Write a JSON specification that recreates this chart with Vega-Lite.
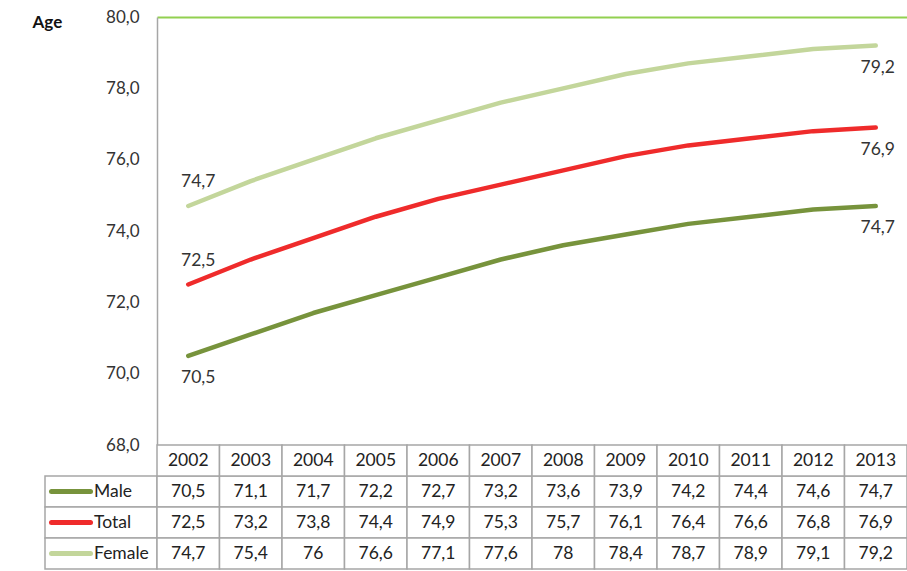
{
  "$schema": "https://vega.github.io/schema/vega-lite/v6.json",
  "padding": {"left": 32, "top": 8, "right": 0, "bottom": 0},
  "data": {"values": [
    {"year": 2002, "series": "Male", "value": 70.5},
    {"year": 2003, "series": "Male", "value": 71.1},
    {"year": 2004, "series": "Male", "value": 71.7},
    {"year": 2005, "series": "Male", "value": 72.2},
    {"year": 2006, "series": "Male", "value": 72.7},
    {"year": 2007, "series": "Male", "value": 73.2},
    {"year": 2008, "series": "Male", "value": 73.6},
    {"year": 2009, "series": "Male", "value": 73.9},
    {"year": 2010, "series": "Male", "value": 74.2},
    {"year": 2011, "series": "Male", "value": 74.4},
    {"year": 2012, "series": "Male", "value": 74.6},
    {"year": 2013, "series": "Male", "value": 74.7},
    {"year": 2002, "series": "Total", "value": 72.5},
    {"year": 2003, "series": "Total", "value": 73.2},
    {"year": 2004, "series": "Total", "value": 73.8},
    {"year": 2005, "series": "Total", "value": 74.4},
    {"year": 2006, "series": "Total", "value": 74.9},
    {"year": 2007, "series": "Total", "value": 75.3},
    {"year": 2008, "series": "Total", "value": 75.7},
    {"year": 2009, "series": "Total", "value": 76.1},
    {"year": 2010, "series": "Total", "value": 76.4},
    {"year": 2011, "series": "Total", "value": 76.6},
    {"year": 2012, "series": "Total", "value": 76.8},
    {"year": 2013, "series": "Total", "value": 76.9},
    {"year": 2002, "series": "Female", "value": 74.7},
    {"year": 2003, "series": "Female", "value": 75.4},
    {"year": 2004, "series": "Female", "value": 76},
    {"year": 2005, "series": "Female", "value": 76.6},
    {"year": 2006, "series": "Female", "value": 77.1},
    {"year": 2007, "series": "Female", "value": 77.6},
    {"year": 2008, "series": "Female", "value": 78},
    {"year": 2009, "series": "Female", "value": 78.4},
    {"year": 2010, "series": "Female", "value": 78.7},
    {"year": 2011, "series": "Female", "value": 78.9},
    {"year": 2012, "series": "Female", "value": 79.1},
    {"year": 2013, "series": "Female", "value": 79.2}
  ]},
  "columns": 2,
  "spacing": 0,
  "bounds": "flush",
  "align": "each",
  "resolve": {"scale": {"x": "independent", "y": "independent", "color": "shared"}},
  "concat": [
    {
      "width": 112,
      "height": 428,
      "transform": [{"filter": "datum.year == 2002 && datum.series == 'Male'"}],
      "mark": {"type": "text"},
      "encoding": {"text": {"value": ""}}
    },
    {
      "width": 750,
      "height": 428,
      "encoding": {
        "x": {"field": "year", "type": "ordinal", "scale": {"type": "point", "padding": 0.5},
              "axis": {"orient": "top", "labels": false, "ticks": false, "title": null, "grid": false, "domainColor": "#92d050", "domainWidth": 2, "zindex": 1}},
        "y": {"field": "value", "type": "quantitative", "scale": {"domain": [68, 80], "nice": false, "zero": false},
              "axis": {"title": "Age", "titleAngle": 0, "titleAlign": "left", "titleBaseline": "middle", "titleX": -125, "titleY": 5,
                       "titleFontSize": 17, "titleFontWeight": "bold", "titleColor": "#111111",
                       "values": [68, 70, 72, 74, 76, 78, 80], "format": ".1f", "labelFontSize": 17, "labelColor": "#333333",
                       "labelPadding": 18, "ticks": false, "grid": false, "domainColor": "#a6a6a6", "domainWidth": 1.5,
                       "labelFlush": false, "labelOverlap": false, "zindex": 1}}
      },
      "layer": [
        {
          "mark": {"type": "line", "strokeWidth": 4.5, "strokeCap": "round", "strokeJoin": "round"},
          "encoding": {
            "color": {"field": "series", "type": "nominal", "scale": {"domain": ["Male", "Total", "Female"], "range": ["#77933c", "#ef2b2b", "#c3d69b"]}, "legend": null}
          }
        },
        {
          "transform": [{"filter": "datum.year == 2002 && datum.series != 'Male'"}],
          "mark": {"type": "text", "dy": -24, "dx": 10, "fontSize": 17.5, "color": "#333333"},
          "encoding": {"text": {"field": "value", "type": "quantitative", "format": ".1f"}}
        },
        {
          "transform": [{"filter": "datum.year == 2002 && datum.series == 'Male'"}],
          "mark": {"type": "text", "dy": 22, "dx": 10, "fontSize": 17.5, "color": "#333333"},
          "encoding": {"text": {"field": "value", "type": "quantitative", "format": ".1f"}}
        },
        {
          "transform": [{"filter": "datum.year == 2013"}],
          "mark": {"type": "text", "dy": 22, "dx": 2, "fontSize": 17.5, "color": "#333333"},
          "encoding": {"text": {"field": "value", "type": "quantitative", "format": ".1f"}}
        }
      ]
    },
    {
      "width": 112,
      "height": 124,
      "transform": [{"filter": "datum.year == 2002"}],
      "encoding": {
        "y": {"field": "series", "type": "nominal", "scale": {"domain": ["h", "Male", "Total", "Female"], "paddingInner": 0, "paddingOuter": 0},
              "axis": {"orient": "left", "offset": -45, "domain": false, "labels": false, "ticks": true, "tickSize": 39, "tickWidth": 5,
                       "tickCap": "round", "values": ["Male", "Total", "Female"], "title": null, "grid": false, "zindex": 1,
                       "tickColor": {"condition": [{"test": "datum.value === 'Male'", "value": "#77933c"}, {"test": "datum.value === 'Total'", "value": "#ef2b2b"}], "value": "#c3d69b"}}}
      },
      "layer": [
        {
          "mark": {"type": "rect", "fill": "white", "stroke": "#a6a6a6", "strokeWidth": 1.5}
        },
        {
          "mark": {"type": "text", "align": "left", "dx": -7, "fontSize": 17.5, "color": "#222222"},
          "encoding": {"text": {"field": "series", "type": "nominal"}}
        }
      ]
    },
    {
      "width": 750,
      "height": 124,
      "layer": [
        {
          "mark": {"type": "rect", "fill": "white", "stroke": "#a6a6a6", "strokeWidth": 1.5},
          "encoding": {
            "x": {"field": "year", "type": "ordinal", "scale": {"type": "band", "paddingInner": 0, "paddingOuter": 0}, "axis": null},
            "y": {"field": "series", "type": "nominal", "scale": {"domain": ["h", "Male", "Total", "Female"], "paddingInner": 0, "paddingOuter": 0}, "axis": null}
          }
        },
        {
          "transform": [{"filter": "datum.series == 'Male'"}],
          "mark": {"type": "rect", "fill": "white", "stroke": "#a6a6a6", "strokeWidth": 1.5},
          "encoding": {
            "x": {"field": "year", "type": "ordinal", "axis": null},
            "y": {"datum": "h", "type": "nominal", "axis": null}
          }
        },
        {
          "transform": [{"filter": "datum.series == 'Male'"}],
          "mark": {"type": "text", "fontSize": 17.5, "color": "#222222"},
          "encoding": {
            "x": {"field": "year", "type": "ordinal", "axis": null},
            "y": {"datum": "h", "type": "nominal", "axis": null},
            "text": {"field": "year", "type": "nominal"}
          }
        },
        {
          "mark": {"type": "text", "fontSize": 17.5, "color": "#222222"},
          "encoding": {
            "x": {"field": "year", "type": "ordinal", "axis": null},
            "y": {"field": "series", "type": "nominal", "axis": null},
            "text": {"field": "value", "type": "quantitative", "format": ".1~f"}
          }
        }
      ]
    }
  ],
  "config": {
    "view": {"stroke": null},
    "font": "Lato",
    "locale": {"number": {"decimal": ",", "thousands": ".", "grouping": [3], "currency": ["", " €"]}}
  }
}
